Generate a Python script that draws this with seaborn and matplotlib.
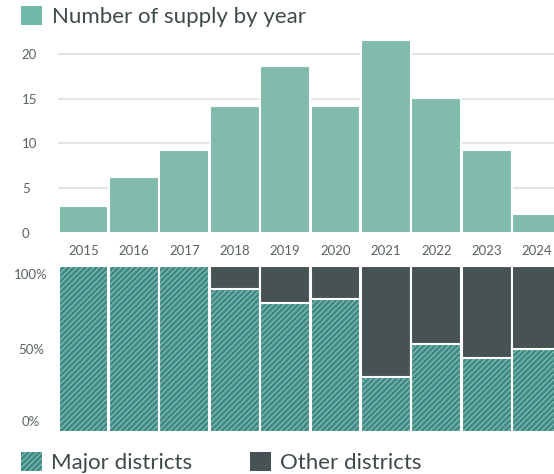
import numpy as np
import matplotlib
matplotlib.use("Agg")
import matplotlib.pyplot as plt
import matplotlib.transforms as mtransforms
from matplotlib.patches import Patch, Rectangle
import seaborn as sns

# data
years = ["2015", "2016", "2017", "2018", "2019", "2020", "2021", "2022", "2023", "2024"]
supply = [3.0, 6.2, 9.3, 14.2, 18.7, 14.2, 21.5, 15.1, 9.3, 2.1]
major_share = [100, 100, 100, 86, 78, 80, 33, 53, 44.5, 50]
other_share = [0, 0, 0, 14, 22, 20, 67, 47, 55.5, 50]

top_color = "#80bbab"
major_color = "#3f8a84"
hatch_color = "#88bfb8"
other_color = "#465254"
text_color = "#3e4a4a"
tick_color = "#5a6262"

sns.set_style("white")
plt.rcParams["font.family"] = ["Lato", "DejaVu Sans"]
plt.rcParams["hatch.linewidth"] = 0.8

W, H = 554, 474
fig = plt.figure(figsize=(W / 100, H / 100), dpi=100)

# pixel layout helpers
def ax_rect(left, top, right, bottom):
    return [left / W, 1 - bottom / H, (right - left) / W, (bottom - top) / H]

ax1 = fig.add_axes(ax_rect(58, 36, 554, 233))
ax2 = fig.add_axes(ax_rect(58, 266, 554, 432.3))

# ---- top: supply per year
sns.barplot(x=years, y=supply, color=top_color, saturation=1, width=0.985,
            edgecolor="white", linewidth=1.5, ax=ax1, zorder=2)
ax1.set_ylim(0, 22)
ax1.set_yticks([0, 5, 10, 15, 20])
for y in [5, 10, 15, 20]:
    ax1.axhline(y, color="#dde3e3", lw=1.3, zorder=1)

# ---- bottom: share by district type
total = np.array(major_share) + np.array(other_share)
sns.barplot(x=years, y=total, color=other_color, saturation=1, width=0.985,
            edgecolor="white", linewidth=1.5, ax=ax2, zorder=2)
n_other = len(ax2.patches)
sns.barplot(x=years, y=major_share, color=major_color, saturation=1, width=0.985,
            edgecolor=hatch_color, linewidth=0, hatch="//////", ax=ax2, zorder=3)
for p in ax2.patches[n_other:]:
    ax2.add_patch(Rectangle(p.get_xy(), p.get_width(), p.get_height(),
                            facecolor="none", edgecolor="white", lw=1.5, zorder=4))
ax2.set_ylim(0, 100)
ax2.set_yticks([0, 50, 100])
ax2.set_yticklabels(["0%", "50%", "100%"])

for ax in (ax1, ax2):
    ax.set_xlim(-0.506, 9.335)
    sns.despine(ax=ax, left=True, bottom=True)
    ax.set_xlabel("")
    ax.set_ylabel("")

ax1.tick_params(axis="x", length=0, pad=8.5, labelsize=9.5, labelcolor=tick_color)
ax1.tick_params(axis="y", length=0, pad=26, labelsize=9.5, labelcolor=tick_color)
for lab in ax1.get_yticklabels():
    lab.set_horizontalalignment("left")

ax2.tick_params(axis="x", length=0, labelbottom=False)
ax2.tick_params(axis="y", length=0, pad=19.5, labelsize=9.5, labelcolor=tick_color)
shifts = [11, 0, -8]  # px: nudge labels like the reference
for lab, dy in zip(ax2.get_yticklabels(), shifts):
    lab.set_horizontalalignment("center")
    lab.set_transform(lab.get_transform() +
                      mtransforms.ScaledTranslation(0, dy / 100, fig.dpi_scale_trans))

# ---- legends
fig.legend(handles=[Patch(facecolor="#70b9a8", edgecolor="none")],
           labels=["Number of supply by year"],
           loc="upper left", bbox_to_anchor=(21 / W, 1 - 6 / H),
           frameon=False, fontsize=16, handlelength=0.95, handleheight=0.95,
           handletextpad=0.45, borderpad=0, borderaxespad=0, labelcolor=text_color)

fig.legend(handles=[Patch(facecolor=major_color, edgecolor=hatch_color, lw=0, hatch="//////"),
                    Patch(facecolor=other_color, edgecolor="none")],
           labels=["Major districts", "Other districts"],
           loc="lower left", bbox_to_anchor=(21 / W, 1 / H), ncol=2,
           frameon=False, fontsize=16, handlelength=0.95, handleheight=0.95,
           handletextpad=0.4, columnspacing=2.6, borderpad=0, borderaxespad=0,
           labelcolor=text_color)

fig.savefig("out.png", dpi=100)
